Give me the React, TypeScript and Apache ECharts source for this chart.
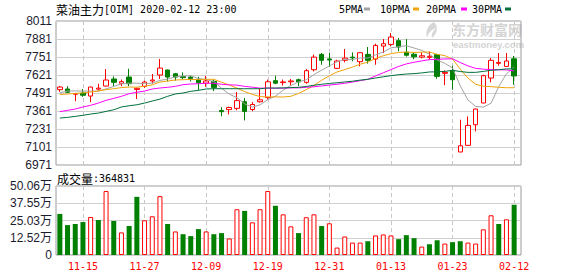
import { useEffect, useRef } from "react";
import * as echarts from "echarts";

const dates = [
  "11-12", "11-13", "11-14", "11-15", "11-18", "11-19", "11-20", "11-21", "11-22", "11-25",
  "11-26", "11-27", "11-28", "11-29", "12-02", "12-03", "12-04", "12-05", "12-06", "12-09",
  "12-10", "12-11", "12-12", "12-13", "12-16", "12-17", "12-18", "12-19", "12-20", "12-23",
  "12-24", "12-25", "12-26", "12-27", "12-30", "12-31", "01-02", "01-03", "01-06", "01-07",
  "01-08", "01-09", "01-10", "01-13", "01-14", "01-15", "01-16", "01-17", "01-20", "01-21",
  "01-22", "01-23", "02-03", "02-04", "02-05", "02-06", "02-07", "02-10", "02-11", "02-12",
];

const opens = [
  7515, 7520, 7482, 7490, 7469, 7519, 7541, 7592, 7561, 7606,
  7517, 7539, 7578, 7621, 7657, 7630, 7610, 7606, 7590, 7562,
  7575, 7364, 7371, 7380, 7428, 7372, 7428, 7458, 7580, 7566,
  7572, 7587, 7568, 7659, 7770, 7737, 7669, 7727, 7750, 7717,
  7770, 7736, 7830, 7842, 7869, 7785, 7771, 7750, 7748, 7768,
  7633, 7654, 7065, 7113, 7262, 7419, 7599, 7705, 7683, 7738,
];
const closes = [
  7534, 7496, 7487, 7475, 7534, 7526, 7585, 7568, 7573, 7558,
  7525, 7570, 7585, 7671, 7606, 7606, 7602, 7595, 7565, 7578,
  7530, 7356, 7386, 7436, 7358, 7408, 7442, 7572, 7562, 7571,
  7578, 7571, 7652, 7750, 7727, 7729, 7722, 7743, 7745, 7782,
  7727, 7835, 7847, 7895, 7823, 7764, 7752, 7760, 7756, 7611,
  7640, 7587, 7110, 7257, 7375, 7616, 7727, 7712, 7722, 7614,
];
const lows = [
  7500, 7490, 7432, 7463, 7425, 7510, 7538, 7540, 7540, 7540,
  7448, 7528, 7560, 7592, 7575, 7580, 7592, 7575, 7513, 7536,
  7505, 7323, 7336, 7366, 7293, 7360, 7422, 7443, 7555, 7545,
  7546, 7540, 7558, 7647, 7695, 7680, 7664, 7712, 7720, 7683,
  7703, 7695, 7780, 7828, 7792, 7754, 7735, 7741, 7730, 7594,
  7548, 7515, 7063, 7110, 7214, 7417, 7568, 7688, 7681, 7551,
];
const highs = [
  7542, 7540, 7492, 7520, 7536, 7558, 7664, 7611, 7588, 7666,
  7530, 7580, 7628, 7736, 7660, 7636, 7640, 7616, 7608, 7614,
  7587, 7388, 7392, 7498, 7455, 7425, 7520, 7588, 7616, 7588,
  7592, 7595, 7664, 7768, 7780, 7780, 7731, 7809, 7784, 7785,
  7823, 7847, 7881, 7924, 7888, 7880, 7784, 7785, 7790, 7774,
  7654, 7688, 7298, 7322, 7378, 7623, 7743, 7780, 7780, 7758,
];

const ma5 = [
  7492, 7505, 7506, 7505, 7505, 7504, 7521, 7538, 7557, 7562,
  7562, 7559, 7562, 7582, 7591, 7608, 7614, 7616, 7595, 7589,
  7574, 7525, 7483, 7457, 7413, 7389, 7406, 7443, 7468, 7511,
  7545, 7571, 7587, 7624, 7656, 7686, 7716, 7734, 7733, 7744,
  7744, 7766, 7787, 7817, 7825, 7833, 7816, 7799, 7771, 7729,
  7705, 7672, 7542, 7441, 7394, 7389, 7417, 7537, 7630, 7678,
];
const ma10 = [
  7480, 7484, 7488, 7492, 7498, 7506, 7515, 7522, 7530, 7534,
  7533, 7540, 7550, 7570, 7577, 7585, 7587, 7589, 7588, 7590,
  7590, 7569, 7549, 7526, 7501, 7481, 7465, 7463, 7463, 7462,
  7467, 7488, 7515, 7546, 7583, 7615, 7643, 7660, 7678, 7699,
  7714, 7741, 7760, 7775, 7784, 7787, 7784, 7786, 7787, 7770,
  7761, 7736, 7663, 7599, 7554, 7540, 7537, 7532, 7529, 7529,
];
const ma20 = [
  7356, 7366, 7375, 7390, 7402, 7418, 7438, 7452, 7467, 7486,
  7496, 7505, 7520, 7527, 7532, 7539, 7551, 7556, 7558, 7562,
  7561, 7554, 7550, 7548, 7539, 7533, 7526, 7526, 7525, 7526,
  7528, 7528, 7532, 7536, 7542, 7548, 7554, 7561, 7570, 7580,
  7590, 7614, 7637, 7660, 7683, 7701, 7713, 7723, 7732, 7734,
  7737, 7738, 7711, 7687, 7669, 7663, 7660, 7659, 7658, 7650,
];
const ma30 = [
  7310, 7315, 7322, 7330, 7339, 7346, 7358, 7370, 7390, 7399,
  7406, 7418, 7433, 7447, 7467, 7484, 7491, 7503, 7510, 7520,
  7522, 7522, 7522, 7522, 7522, 7522, 7522, 7527, 7527, 7528,
  7530, 7532, 7538, 7547, 7554, 7560, 7565, 7571, 7576, 7584,
  7590, 7599, 7608, 7616, 7623, 7628, 7631, 7636, 7643, 7644,
  7647, 7655, 7646, 7640, 7640, 7647, 7655, 7659, 7665, 7666,
];

const volumes = [
  298000, 217000, 225000, 239000, 276000, 254000, 464000, 247000, 164000, 210000,
  422000, 252000, 281000, 427000, 225000, 171000, 151000, 137000, 188000, 171000,
  151000, 159000, 120000, 332000, 320000, 237000, 332000, 464000, 357000, 295000,
  208000, 159000, 274000, 295000, 210000, 230000, 54000, 134000, 90000, 90000,
  100000, 142000, 149000, 142000, 115000, 144000, 122000, 61000, 78000, 107000,
  83000, 93000, 100000, 90000, 83000, 186000, 288000, 225000, 259000, 364831,
];
const volUp = [
  0, 0, 0, 0, 1, 0, 1, 0, 1, 0,
  0, 1, 1, 1, 0, 1, 0, 0, 0, 1,
  0, 0, 1, 1, 0, 1, 1, 1, 0, 1,
  1, 0, 1, 1, 0, 1, 1, 1, 1, 1,
  0, 1, 1, 1, 0, 0, 0, 1, 0, 0,
  1, 0, 0, 1, 1, 1, 1, 0, 1, 0,
];

const priceMin = 6971;
const priceMax = 8011;
const priceStep = 130;
const volMax = 500600;
const volStep = 125150;
const volTickLabels = ["0", "12.52万", "25.03万", "37.55万", "50.06万"];

const titleName = "菜油主力";
const titleCode = "[OIM] 2020-02-12 23:00";
const legendNames = ["5PMA", "10PMA", "20PMA", "30PMA"];
const volumeTitle = "成交量";
const lastVolume = "364831";

const MONO = "'DejaVu Sans Mono', 'Liberation Mono', monospace";
const CJK = "'Noto Sans CJK SC', sans-serif";
const SANS = "'Liberation Sans', 'Noto Sans CJK SC', sans-serif";

const RED = "#ff0000";
const GREEN = "#008000";
const maColors = ["#a3a3a3", "#f0a30a", "#ff00ff", "#00703c"];
const AXIS_TEXT = "#1c1c30";

const logoPath =
  "M9 0 C3 3 0 9 2 16 C3 11 6 8 11 6 C8 9 6 12 7 16 C12 12 14 5 9 0 Z";

export default function App() {
  const ref = useRef<HTMLDivElement>(null);

  useEffect(() => {
    if (!ref.current) return;
    echarts.graphic.registerShape("logo", echarts.graphic.extendPath(logoPath, {}));
    const chart = echarts.init(ref.current, null, { renderer: "svg" });

    const labelIdx = (i: number) => i % 8 === 3;
    const dashed = {
      show: true,
      alignWithLabel: true,
      interval: (i: number) => labelIdx(i),
      lineStyle: { color: "#c8c8c8", type: [4, 3] as any, width: 1 },
    };

    const legendX = [339, 380, 426, 472];
    const swatchX = [364, 413, 461, 505];
    const legendGraphics: any[] = [];
    legendNames.forEach((n, k) => {
      legendGraphics.push({
        type: "text",
        x: legendX[k],
        y: 9,
        style: { text: n, fontFamily: MONO, fontSize: 10, fill: "#000", verticalAlign: "middle" },
      });
      legendGraphics.push({
        type: "rect",
        shape: { x: swatchX[k], y: 7.5, width: 6, height: 3 },
        style: { fill: maColors[k] },
      });
    });

    const maList = [ma5, ma10, ma20, ma30];

    const option: any = {
      animation: false,
      backgroundColor: "#fff",
      grid: [
        { left: 56, top: 21, width: 465, height: 144, show: true, borderColor: "#9a9a9a", borderWidth: 1, backgroundColor: "transparent" },
        { left: 56, top: 21, width: 462, height: 144 },
        { left: 56, top: 186, width: 465, height: 69, show: true, borderColor: "#9a9a9a", borderWidth: 1, backgroundColor: "transparent" },
        { left: 56, top: 186, width: 462, height: 69 },
      ],
      xAxis: [
        { gridIndex: 0, type: "value", show: false, min: 0, max: 1 },
        {
          gridIndex: 1,
          type: "category",
          data: dates,
          boundaryGap: true,
          axisLine: { show: false },
          axisTick: { show: false },
          axisLabel: { show: false },
          splitLine: dashed,
        },
        { gridIndex: 2, type: "value", show: false, min: 0, max: 1 },
        {
          gridIndex: 3,
          type: "category",
          data: dates,
          boundaryGap: true,
          axisLine: { show: false },
          axisTick: { show: false },
          axisLabel: {
            interval: (i: number) => labelIdx(i),
            color: RED,
            fontFamily: MONO,
            fontSize: 10,
            margin: 6,
          },
          splitLine: dashed,
        },
      ],
      yAxis: [
        {
          gridIndex: 0,
          type: "value",
          min: priceMin,
          max: priceMax,
          interval: priceStep,
          axisLine: { show: false },
          axisTick: { show: false },
          axisLabel: {
            margin: 4,
            color: AXIS_TEXT,
            fontFamily: SANS,
            fontSize: 12,
            formatter: (v: number) => String(Math.round(v)),
          },
          splitLine: { lineStyle: { color: "#d0d0d0", width: 1 } },
        },
        { gridIndex: 1, type: "value", min: priceMin, max: priceMax, show: false },
        {
          gridIndex: 2,
          type: "value",
          min: 0,
          max: volMax,
          interval: volStep,
          axisLine: { show: false },
          axisTick: { show: false },
          axisLabel: {
            margin: 4,
            color: AXIS_TEXT,
            fontFamily: SANS,
            fontSize: 12,
            formatter: (v: number) => volTickLabels[Math.round(v / volStep)] ?? "",
          },
          splitLine: { lineStyle: { color: "#d0d0d0", width: 1 } },
        },
        { gridIndex: 3, type: "value", min: 0, max: volMax, show: false },
      ],
      series: [
        {
          type: "candlestick",
          xAxisIndex: 1,
          yAxisIndex: 1,
          barWidth: 5,
          data: dates.map((_, i) => [opens[i], closes[i], lows[i], highs[i]]),
          itemStyle: {
            color: "#ffffff",
            color0: GREEN,
            borderColor: RED,
            borderColor0: GREEN,
            borderWidth: 1,
          },
        },
        ...maList.map((arr, k) => ({
          type: "line",
          xAxisIndex: 1,
          yAxisIndex: 1,
          data: arr,
          symbol: "none",
          showSymbol: false,
          lineStyle: { width: 1, color: maColors[k] },
          silent: true,
        })),
        {
          type: "bar",
          xAxisIndex: 3,
          yAxisIndex: 3,
          barWidth: 5,
          data: volumes.map((v, i) => ({
            value: v,
            itemStyle: volUp[i]
              ? { color: "#ffffff", borderColor: RED, borderWidth: 1 }
              : { color: GREEN, borderWidth: 0 },
          })),
        },
      ],
      graphic: [
        {
          type: "text",
          x: 56,
          y: 9,
          style: {
            text: `{a|${titleName}}{b|${titleCode}}`,
            verticalAlign: "middle",
            fill: "#000",
            rich: {
              a: { fontFamily: CJK, fontSize: 12, fill: "#000" },
              b: { fontFamily: MONO, fontSize: 10, fill: "#000" },
            },
          },
        },
        ...legendGraphics,
        {
          type: "text",
          x: 57,
          y: 178,
          style: {
            text: `{a|${volumeTitle}}{b|:${lastVolume}}`,
            verticalAlign: "middle",
            fill: "#000",
            rich: {
              a: { fontFamily: CJK, fontSize: 12, fill: "#000" },
              b: { fontFamily: MONO, fontSize: 10, fill: "#000" },
            },
          },
        },
        {
          type: "logo",
          x: 425,
          y: 22,
          scaleX: 1,
          scaleY: 1,
          z: -1,
          style: { fill: "#d6d6d6" },
        },
        {
          type: "text",
          x: 452,
          y: 29,
          z: -1,
          style: { text: "东方财富网", fontFamily: CJK, fontSize: 14, fontWeight: "bold", fill: "#d4d4d4", verticalAlign: "middle" },
        },
        {
          type: "text",
          x: 453,
          y: 44,
          z: -1,
          style: { text: "eastmoney.com", fontFamily: SANS, fontSize: 9.5, fontWeight: "bold", fill: "#d4d4d4", verticalAlign: "middle" },
        },
      ],
    };

    chart.setOption(option);
    return () => chart.dispose();
  }, []);

  return (
    <div
      ref={ref}
      style={{ position: "absolute", left: 0, top: 0, width: 578, height: 276 }}
    />
  );
}
